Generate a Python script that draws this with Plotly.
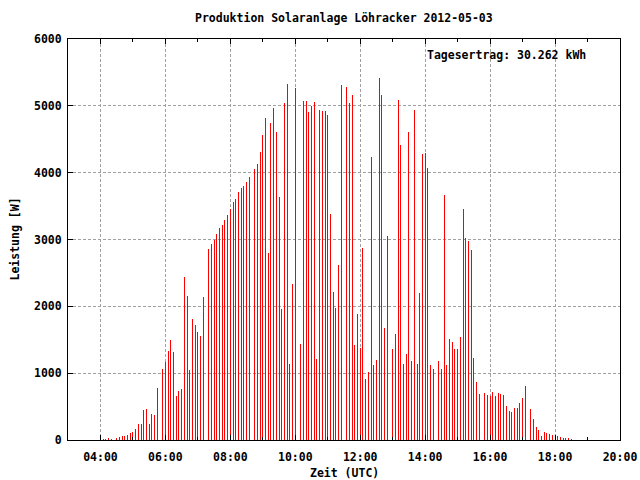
import pandas as pd
import plotly.graph_objects as go

# Leistung [W], one reading every 5 minutes starting 04:05 UTC
start_time = "2012-05-03 04:05"
step = "5min"
power_w = [
    15, 15, 30, 15, 30, 35, 50, 65, 65, 75,
    105, 120, 165, 240, 240, 450, 465, 240, 390, 375,
    780, 960, 1065, 1170, 1335, 1500, 1320, 660, 735, 765,
    2440, 2155, 1050, 1810, 1720, 1620, 1560, 2140, 2900, 2860,
    2930, 2990, 3080, 3170, 3220, 3290, 3370, 3455, 3560, 3605,
    3710, 3770, 3800, 3860, 3935, 3995, 4055, 4130, 4310, 4565,
    4820, 2800, 4745, 4970, 4610, 3635, 1960, 5040, 5325, 1140,
    2335, 5265, 5160, 1435, 5070, 5070, 4910, 5000, 5055, 1210,
    4940, 4925, 4925, 4865, 3380, 2215, 1975, 2620, 5310, 5325,
    5280, 5040, 5160, 1420, 1885, 1375, 2875, 915, 1015, 4235,
    1120, 1195, 5415, 5160, 1675, 3050, 1840, 1360, 1585, 5085,
    4415, 1135, 1285, 4610, 1180, 4940, 1135, 2200, 4280, 4295,
    4070, 1120, 1060, 1030, 1180, 1060, 3665, 1120, 1510, 1465,
    1360, 1360, 1540, 3455, 3020, 2980, 2845, 1225, 870, 690,
    675, 705, 675, 660, 720, 660, 705, 690, 675, 510,
    435, 420, 480, 480, 555, 630, 810, 465, 465, 315,
    195, 150, 60, 120, 105, 90, 75, 60, 60, 45,
    30, 30, 30, 15, 15,
]
times = pd.date_range(start_time, periods=len(power_w), freq=step)

title_text = "Produktion Solaranlage Löhracker 2012-05-03"
x_title = "Zeit (UTC)"
y_title = "Leistung [W]"
total_text = "Tagesertrag: 30.262 kWh"
x_range = ["2012-05-03 03:00", "2012-05-03 20:00"]
y_range = [0, 6000]

FONT = "DejaVu Sans Mono"
fsize = 11.5

fig = go.Figure()
fig.add_trace(go.Bar(
    x=times, y=power_w,
    width=1000,
    marker=dict(color="#ff0000", line=dict(width=0)),
    showlegend=False,
))

axis_common = dict(
    showline=True, linecolor="black", linewidth=1, mirror=True,
    showgrid=True, gridcolor="#a0a0a0", gridwidth=1, griddash="3px,2px",
    zeroline=False, ticks="inside", tickcolor="black", tickwidth=1,
    automargin=False,
    tickfont=dict(family=FONT, size=fsize, color="black", weight="bold"),
)

fig.update_xaxes(
    **axis_common,
    type="date", range=x_range, tick0="2012-05-03 04:00", dtick=7200000,
    tickformat="%H:%M", ticklen=5,
    minor=dict(ticks="inside", dtick=3600000, tick0="2012-05-03 05:00",
               ticklen=3, tickcolor="black", showgrid=False),
    ticklabelstandoff=6,
)
fig.update_yaxes(
    **axis_common,
    range=y_range, dtick=1000, ticklen=5,
    ticklabelstandoff=3,
)
fig.update_xaxes(mirror="allticks")

fig.update_layout(
    width=640, height=480, autosize=False,
    margin=dict(l=68, r=20, t=39, b=40, autoexpand=False),
    paper_bgcolor="white", plot_bgcolor="white",
    bargap=0,
    font=dict(family=FONT, size=fsize, color="black", weight="bold"),
    annotations=[
        dict(text=title_text, xref="paper", yref="paper", x=0.5, y=1,
             xanchor="center", yanchor="middle", yshift=21, showarrow=False,
             font=dict(family=FONT, size=fsize, weight="bold")),
        dict(text=x_title, xref="paper", yref="paper", x=0.5, y=0,
             xanchor="center", yanchor="middle", yshift=-33, showarrow=False,
             font=dict(family=FONT, size=fsize, weight="bold")),
        dict(text=y_title, xref="paper", yref="paper", x=0, y=0.5,
             xanchor="center", yanchor="middle", xshift=-54, textangle=-90,
             showarrow=False, font=dict(family=FONT, size=fsize, weight="bold")),
        dict(text=total_text, xref="paper", yref="paper", x=1, y=1,
             xanchor="right", yanchor="middle", xshift=-32, yshift=-16,
             showarrow=False, font=dict(family=FONT, size=fsize, weight="bold")),
    ],
)

fig.write_html(
    "out.html",
    config={"displayModeBar": False},
    post_script="document.body.style.margin='0';document.body.style.overflow='hidden';",
)
